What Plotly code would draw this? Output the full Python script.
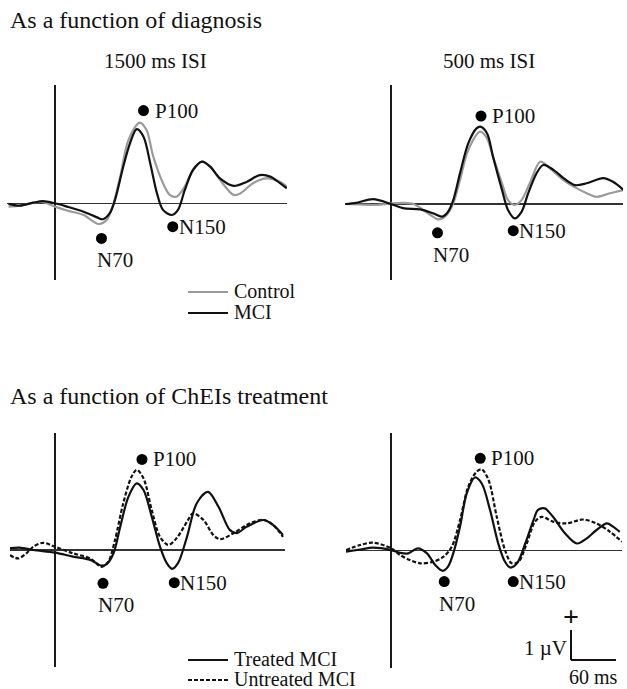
import plotly.graph_objects as go

W, H = 627, 689
SX = 0.75   # px per ms
SY = 30.0   # px per microvolt
FONT = "Liberation Serif, Times New Roman, serif"

# ---------------- data (time in ms, amplitude in microvolts) ----------------
# Panel A: 1500 ms ISI, diagnosis
p1_ctrl_t = [-62, -47, -29, -16, 0, 16, 38, 58, 69, 78, 87, 98, 113, 122, 131, 144, 153, 162, 173, 184, 196, 207, 220, 238, 247, 264, 282, 300, 309]
p1_ctrl_a = [-0.11, -0.08, 0.02, 0.04, -0.11, -0.24, -0.39, -0.69, -0.56, 0.0, 0.89, 2.11, 2.69, 2.44, 1.56, 0.67, 0.28, 0.22, 0.56, 1.11, 1.39, 1.22, 0.78, 0.28, 0.33, 0.67, 0.83, 0.72, 0.56]
p1_mci_t = [-62, -47, -29, -16, 0, 16, 38, 56, 64, 73, 80, 91, 100, 109, 118, 127, 136, 144, 156, 164, 173, 184, 196, 207, 220, 238, 256, 273, 287, 300, 309]
p1_mci_a = [-0.02, -0.08, 0.02, 0.07, 0.0, -0.11, -0.28, -0.47, -0.53, -0.33, 0.11, 1.22, 2.0, 2.47, 2.22, 1.33, 0.33, -0.22, -0.39, -0.22, 0.44, 1.11, 1.39, 1.22, 0.83, 0.58, 0.72, 0.94, 0.89, 0.67, 0.5]

# Panel B: 500 ms ISI, diagnosis
p2_ctrl_t = [-61, -32, -19, 0, 16, 30, 43, 56, 63, 74, 83, 92, 103, 119, 128, 136, 148, 156, 165, 174, 185, 199, 212, 230, 248, 261, 274, 292, 310]
p2_ctrl_a = [0.0, -0.03, -0.03, 0.02, 0.04, 0.0, -0.2, -0.42, -0.51, -0.37, 0.02, 0.8, 1.8, 2.41, 2.19, 1.58, 0.69, 0.13, -0.03, 0.13, 0.69, 1.41, 1.19, 0.8, 0.52, 0.36, 0.24, 0.36, 0.47]
p2_mci_t = [-61, -46, -24, 0, 16, 39, 56, 68, 76, 83, 92, 103, 114, 119, 128, 136, 148, 156, 165, 174, 183, 194, 203, 217, 230, 245, 261, 283, 296, 310]
p2_mci_a = [0.0, 0.04, 0.16, 0.0, -0.14, -0.18, -0.31, -0.42, -0.26, 0.13, 1.02, 2.02, 2.52, 2.58, 2.36, 1.58, 0.47, -0.2, -0.48, -0.26, 0.36, 1.02, 1.3, 1.13, 0.86, 0.63, 0.69, 0.86, 0.74, 0.47]

# Panel C: 1500 ms ISI, ChEIs treatment
p3_treat_t = [-60, -47, -29, 0, 24, 47, 62, 69, 78, 87, 98, 109, 118, 129, 140, 149, 156, 164, 176, 189, 204, 218, 233, 242, 256, 278, 291, 304]
p3_treat_a = [0.06, 0.08, 0.0, -0.09, -0.22, -0.33, -0.52, -0.47, -0.11, 0.78, 1.78, 2.22, 2.0, 1.11, 0.11, -0.44, -0.63, -0.44, 0.44, 1.56, 1.94, 1.44, 0.67, 0.56, 0.78, 1.0, 0.83, 0.5]
p3_untr_t = [-60, -49, -38, -29, -16, 0, 24, 47, 62, 71, 80, 91, 102, 109, 118, 129, 140, 151, 162, 176, 184, 198, 211, 220, 238, 260, 278, 291, 304]
p3_untr_a = [-0.17, -0.28, -0.11, 0.11, 0.24, 0.11, -0.11, -0.28, -0.56, -0.39, 0.33, 1.56, 2.44, 2.67, 2.39, 1.33, 0.44, 0.17, 0.39, 0.94, 1.22, 1.0, 0.5, 0.36, 0.56, 0.89, 1.0, 0.83, 0.44]

# Panel D: 500 ms ISI, ChEIs treatment
p4_treat_t = [-60, -41, -24, 0, 12, 23, 36, 48, 59, 69, 76, 83, 92, 101, 112, 121, 132, 143, 152, 159, 168, 179, 190, 196, 205, 216, 232, 248, 261, 274, 288, 296, 305]
p4_treat_a = [-0.03, 0.04, 0.1, 0.02, -0.07, -0.09, 0.08, -0.09, -0.48, -0.67, -0.53, -0.09, 0.8, 1.91, 2.44, 2.24, 1.36, 0.24, -0.37, -0.56, -0.42, 0.24, 1.02, 1.36, 1.41, 1.13, 0.58, 0.24, 0.41, 0.69, 0.91, 0.8, 0.63]
p4_untr_t = [-60, -41, -24, 0, 12, 25, 39, 56, 70, 81, 92, 103, 114, 121, 130, 141, 152, 161, 170, 181, 192, 201, 216, 234, 256, 274, 292, 308]
p4_untr_a = [0.02, 0.19, 0.27, 0.08, -0.14, -0.31, -0.42, -0.37, -0.2, 0.13, 1.02, 2.13, 2.63, 2.71, 2.36, 1.13, 0.02, -0.42, -0.37, 0.24, 0.97, 1.13, 0.97, 0.91, 1.04, 0.91, 0.63, 0.3]

# Peak markers (N70, P100, N150)
peak_names = ["N70", "P100", "N150"]
p1_peak_t = [62, 118, 157]
p1_peak_a = [-1.17, 3.09, -0.78]
p2_peak_t = [62, 120, 163]
p2_peak_a = [-0.96, 2.93, -0.89]
p3_peak_t = [64, 116, 159]
p3_peak_a = [-1.11, 3.02, -1.09]
p4_peak_t = [71, 119, 163]
p4_peak_a = [-1.03, 3.08, -1.03]

# Scale bar
scale_ms = 60
scale_uv = 1

# ---------------- layout helpers ----------------
def px_x(px):
    return px / W

def px_y(py):
    return 1 - py / H

# panel geometry: origin px (t=0, a=0), baseline extent, vertical-line extent
panels = [
    dict(x0=55, y0=203.3, xa=7, xb=287, ya=85, yb=280),
    dict(x0=391, y0=204, xa=345, xb=623, ya=85, yb=280),
    dict(x0=55, y0=550, xa=10, xb=285, ya=433, yb=667),
    dict(x0=391, y0=550.7, xa=346, xb=622, ya=433, yb=668),
]

fig = go.Figure()
layout = dict(
    width=W, height=H, margin=dict(l=0, r=0, t=0, b=0),
    paper_bgcolor="white", plot_bgcolor="rgba(0,0,0,0)",
    showlegend=False, font=dict(family=FONT, size=21, color="#111"),
)
for i, p in enumerate(panels, start=1):
    sfx = "" if i == 1 else str(i)
    layout["xaxis" + sfx] = dict(
        domain=[px_x(p["xa"]), px_x(p["xb"])],
        range=[(p["xa"] - p["x0"]) / SX, (p["xb"] - p["x0"]) / SX],
        anchor="y" + sfx, showgrid=False, showticklabels=False, ticks="",
        showline=False, zeroline=True, zerolinecolor="#1a1a1a", zerolinewidth=1.6,
        fixedrange=True,
    )
    layout["yaxis" + sfx] = dict(
        domain=[px_y(p["yb"]), px_y(p["ya"])],
        range=[(p["y0"] - p["yb"]) / SY, (p["y0"] - p["ya"]) / SY],
        anchor="x" + sfx, showgrid=False, showticklabels=False, ticks="",
        showline=False, zeroline=True, zerolinecolor="#333", zerolinewidth=1.5,
        fixedrange=True,
    )
fig.update_layout(**layout)

GRAY = "#9a9a9a"
BLACK = "#111111"
DASH = "4px,2px"

def add_line(t, a, ax, color, dash="solid"):
    fig.add_trace(go.Scatter(
        x=t, y=a, mode="lines", xaxis="x" + ax, yaxis="y" + ax,
        line=dict(color=color, width=2.2, shape="spline", smoothing=0.9, dash=dash),
        hoverinfo="skip"))

add_line(p1_ctrl_t, p1_ctrl_a, "", GRAY)
add_line(p1_mci_t, p1_mci_a, "", BLACK)
add_line(p2_ctrl_t, p2_ctrl_a, "2", GRAY)
add_line(p2_mci_t, p2_mci_a, "2", BLACK)
add_line(p3_untr_t, p3_untr_a, "3", BLACK, DASH)
add_line(p3_treat_t, p3_treat_a, "3", BLACK)
add_line(p4_untr_t, p4_untr_a, "4", BLACK, DASH)
add_line(p4_treat_t, p4_treat_a, "4", BLACK)

annotations = []
label_style = {
    "N70": dict(xanchor="center", xshift=13, yshift=-22),
    "P100": dict(xanchor="left", xshift=9, yshift=0),
    "N150": dict(xanchor="left", xshift=4, yshift=0),
}
for ax, pt, pa in [("", p1_peak_t, p1_peak_a), ("2", p2_peak_t, p2_peak_a),
                   ("3", p3_peak_t, p3_peak_a), ("4", p4_peak_t, p4_peak_a)]:
    fig.add_trace(go.Scatter(
        x=pt, y=pa, mode="markers", xaxis="x" + ax, yaxis="y" + ax,
        marker=dict(size=11, color="black"), cliponaxis=False, hoverinfo="skip"))
    for name, t, a in zip(peak_names, pt, pa):
        st = label_style[name]
        annotations.append(dict(
            x=t, y=a, xref="x" + ax, yref="y" + ax, text=name, showarrow=False,
            xanchor=st["xanchor"], yanchor="middle", xshift=st["xshift"], yshift=st["yshift"],
            font=dict(size=21, family=FONT, color="#111")))

def txt(text, x, y, size=21, xanchor="left"):
    annotations.append(dict(
        x=px_x(x), y=px_y(y), xref="paper", yref="paper", text=text, showarrow=False,
        xanchor=xanchor, yanchor="middle", font=dict(size=size, family=FONT, color="#111")))

txt("As a function of diagnosis", 8, 20, size=24)
txt("As a function of ChEIs treatment", 8, 396, size=24)
txt("1500 ms ISI", 155, 61, xanchor="center")
txt("500 ms ISI", 489, 61, xanchor="center")

# legends
shapes = []
def legend_item(label, y, color, dash="solid"):
    shapes.append(dict(type="line", xref="paper", yref="paper",
                       x0=px_x(188), x1=px_x(228), y0=px_y(y), y1=px_y(y),
                       line=dict(color=color, width=2.2, dash=dash)))
    txt(label, 232, y - 1, size=20)

legend_item("Control", 292, GRAY)
legend_item("MCI", 313, BLACK)
legend_item("Treated MCI", 660, BLACK)
legend_item("Untreated MCI", 680, BLACK, DASH)

# scale bar in panel D units
sb_t0 = 240
sb_a0 = -3.64
shapes.append(dict(type="line", xref="x4", yref="y4", x0=sb_t0, x1=sb_t0,
                   y0=sb_a0, y1=sb_a0 + scale_uv, line=dict(color=BLACK, width=2)))
shapes.append(dict(type="line", xref="x4", yref="y4", x0=sb_t0, x1=sb_t0 + scale_ms,
                   y0=sb_a0, y1=sb_a0, line=dict(color=BLACK, width=2)))
annotations.append(dict(x=sb_t0, y=sb_a0 + scale_uv, xref="x4", yref="y4", text="<b>+</b>",
                        showarrow=False, xanchor="center", yanchor="bottom", yshift=-4,
                        font=dict(size=28, family=FONT, color="#111")))
annotations.append(dict(x=sb_t0, y=sb_a0 + 0.4, xref="x4", yref="y4", text="1 µV",
                        showarrow=False, xanchor="right", yanchor="middle", xshift=-2,
                        font=dict(size=21, family=FONT, color="#111")))
annotations.append(dict(x=sb_t0 + scale_ms / 2, y=sb_a0, xref="x4", yref="y4",
                        text=f"{scale_ms} ms", showarrow=False, xanchor="center",
                        yanchor="middle", yshift=-17,
                        font=dict(size=20, family=FONT, color="#111")))

fig.update_layout(annotations=annotations, shapes=shapes)
fig.write_html("out.html", config={"displayModeBar": False, "staticPlot": True},
               post_script="document.body.style.margin='0';document.body.style.overflow='hidden';")
